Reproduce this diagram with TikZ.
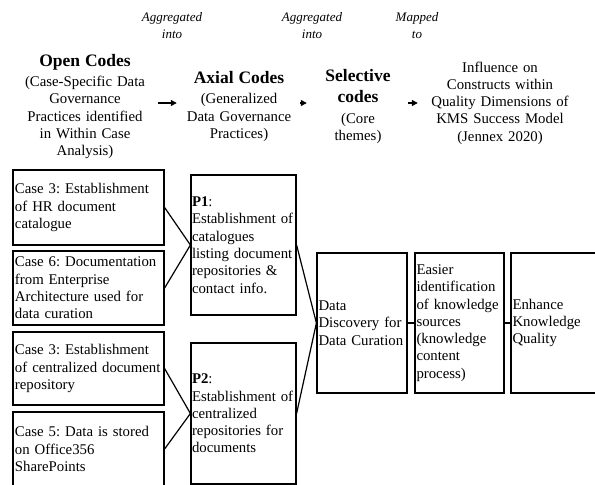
\documentclass[tikz,border=0pt]{standalone}
\usepackage{fontspec}
\setmainfont{Liberation Serif}
\usetikzlibrary{arrows.meta}
\newcommand{\headfont}{\fontsize{17.5}{21}\selectfont\bfseries}
\newcommand{\nobreaks}{\frenchspacing\hyphenpenalty=10000\relax}
\begin{document}
\begin{tikzpicture}[x=1pt, y=-1pt, >={Triangle[length=6pt,width=6pt]},
  txt/.style={font=\fontsize{14.8}{17.3}\selectfont\nobreaks},
  head/.style={txt, align=center, inner sep=0pt},
  lbl/.style={font=\fontsize{13}{17}\selectfont\itshape, align=center, inner sep=0pt},
  box/.style 2 args={draw, line width=1.2pt, txt, align=left, text width=#1, inner xsep=#2, inner ysep=0pt},
  link/.style={line width=1.2pt}]
\useasboundingbox (0,0) rectangle (595,485);
% column headings
\node[lbl] (agg1) at (172,25.5) {Aggregated\\into};
\node[lbl] (agg2) at (312,25.5) {Aggregated\\into};
\node[lbl] (map) at (417,25.5) {Mapped\\to};
\node[head, text width=122pt] (open) at (85,106.5) {{\headfont Open Codes}\\[3pt](Case-Specific Data\\Governance\\Practices identified\\in Within Case\\Analysis)};
\node[head, text width=106pt] (axial) at (239,106.5) {{\headfont Axial Codes}\\[3pt](Generalized\\Data Governance\\Practices)};
\node[head, text width=70pt] (sel) at (358,106.5) {{\headfont Selective}\\[4pt]{\headfont codes}\\[3pt](Core\\themes)};
\node[head, text width=142pt] (infl) at (500,103) {Influence on\\Constructs within\\Quality Dimensions of\\KMS Success Model\\(Jennex 2020)};
\draw[->, line width=1.3pt, shorten <=12pt, shorten >=9pt] ([yshift=3.5pt]open.east) -- ([yshift=3.5pt]axial.west);
\draw[->, line width=1.3pt, shorten <=8pt, shorten >=16pt] ([yshift=3.5pt]axial.east) -- ([yshift=3.5pt]sel.west);
\draw[->, line width=1.3pt, shorten <=15pt, shorten >=11pt] ([yshift=3.5pt]sel.east) -- (infl.west);
% open codes
\node[box={147pt}{2pt}, minimum height=75pt] (hr) at (88.5,207.5) {Case 3: Establishment\\of HR document\\catalogue};
\node[box={147pt}{2pt}, minimum height=74pt] (ea) at (88.5,288) {Case 6: Documentation\\from Enterprise\\Architecture used for\\data curation};
\node[box={147pt}{2pt}, minimum height=73pt] (repo) at (88.5,368.5) {Case 3: Establishment\\of centralized document\\repository};
\node[box={147pt}{2pt}, minimum height=74pt] (sp) at (88.5,449) {Case 5: Data is stored\\on Office356\\SharePoints};
% axial codes
\node[box={103pt}{1pt}, minimum height=140pt] (p1) at (243.5,245) {\textbf{P1}:\\Establishment of\\catalogues\\listing document\\repositories \&\\contact info.};
\node[box={103pt}{1pt}, minimum height=141pt] (p2) at (243.5,413.5) {\textbf{P2}:\\Establishment of\\centralized\\repositories for\\documents};
% selective code and constructs
\node[box={87pt}{1.5pt}, minimum height=140pt] (dd) at (362,323) {Data\\Discovery for\\Data Curation};
\node[box={86pt}{1.5pt}, minimum height=140pt] (eid) at (459.5,323) {Easier\\identification\\of knowledge\\sources\\(knowledge\\content\\process)};
\node[box={82pt}{1.5pt}, minimum height=140pt] (ekq) at (553.5,323) {Enhance\\Knowledge\\Quality};
\draw[link] (hr.east) -- (p1.west);
\draw[link] (ea.east) -- (p1.west);
\draw[link] (repo.east) -- (p2.west);
\draw[link] (sp.east) -- (p2.west);
\draw[link] (p1.east) -- (dd.west);
\draw[link] (p2.east) -- (dd.west);
\draw[link] (dd) -- (eid);
\draw[link] (eid) -- (ekq);
\end{tikzpicture}
\end{document}
